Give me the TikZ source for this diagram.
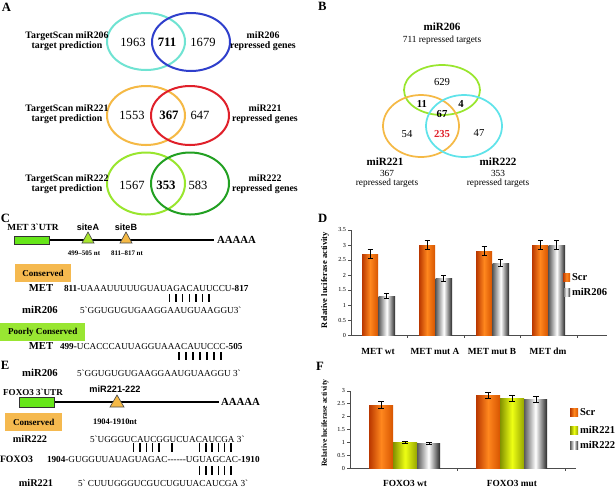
\documentclass[tikz,border=0pt]{standalone}
\usepackage{fontspec}
\setmainfont{Liberation Serif}
\newfontfamily\sansf{Liberation Sans}
\newcommand{\fsz}[1]{\fontsize{#1}{#1}\selectfont}
\newcommand{\gr}{\textasciigrave}
\definecolor{cyanA}{HTML}{6FE3D2}
\definecolor{blueA}{HTML}{2F3FCC}
\definecolor{orangeA}{HTML}{F5B945}
\definecolor{redA}{HTML}{E0202A}
\definecolor{lgreenA}{HTML}{99E62E}
\definecolor{dgreenA}{HTML}{22A022}
\definecolor{cyanB}{HTML}{5FE3EA}
\definecolor{boxO}{HTML}{F5B94F}
\definecolor{boxG}{HTML}{99E632}
\definecolor{utrG}{HTML}{66E619}
\definecolor{triG}{HTML}{A8E62E}
\definecolor{redT}{HTML}{E0202A}
\tikzset{
  venn/.style={line width=1.5pt},
  lab/.style={font=\bfseries\fsz{7.4}, align=center},
  num/.style={font=\fsz{9.4}},
  bnum/.style={font=\bfseries\fsz{9.6}},
  bnumB/.style={font=\fsz{8}},
  panel/.style={font=\bfseries\fsz{9.5}, anchor=west},
  seq/.style={font=\fsz{6.9}, anchor=west},
  gname/.style={font=\bfseries\fsz{8}},
  sitelab/.style={font=\sansf\bfseries\fsz{6.8}},
  ntlab/.style={font=\bfseries\fsz{5.2}},
  boxlab/.style={font=\bfseries\fsz{6.8}, minimum height=13.5pt, inner xsep=5pt},
  utr/.style={draw=black!80, fill=utrG, line width=0.6pt},
  tri/.style={draw=black!70, line width=0.5pt},
  pair/.style={line width=1.1pt},
  obar/.style={left color={rgb,255:red,185;green,55;blue,0}, right color={rgb,255:red,215;green,85;blue,0}, middle color={rgb,255:red,255;green,135;blue,30}},
  wbar/.style={left color={rgb,255:red,90;green,90;blue,90}, right color={rgb,255:red,40;green,40;blue,40}, middle color=white},
  ybar/.style={left color={rgb,255:red,130;green,145;blue,0}, right color={rgb,255:red,150;green,165;blue,0}, middle color={rgb,255:red,238;green,255;blue,20}},
  err/.style={line width=0.7pt},
  axis/.style={line width=0.4pt, draw=black!70},
  tick/.style={font=\fsz{4.6}, anchor=east},
  ylab/.style={font=\bfseries\fsz{6.4}, rotate=90},
  cat/.style={font=\bfseries\fsz{7}},
  leg/.style={font=\bfseries\fsz{7.9}, anchor=west},
}
\begin{document}
\begin{tikzpicture}[x=0.75pt,y=-0.75pt, every node/.style={inner sep=0pt, outer sep=0pt}]
\fill[white] (0,0) rectangle (616,487);
\useasboundingbox (0,0) rectangle (616,487);

%================ A ================
\node[panel] (pA) at (2,7) {A};
\draw[venn, cyanA] (146,41.5) ellipse [x radius=39, y radius=28.5];
\draw[venn, blueA] (191,42) ellipse [x radius=39, y radius=29];
\node[num] (a1l) at (133,42) {1963};
\node[bnum] (a1m) at (167,42) {711};
\node[num] (a1r) at (203,42) {1679};
\node[lab] (a1L) at (67,41) {TargetScan miR206\\target prediction};
\node[lab] (a1R) at (263,41) {miR206\\repressed genes};

\draw[venn, orangeA] (146,115.5) ellipse [x radius=39, y radius=29.5];
\draw[venn, redA] (190,115.5) ellipse [x radius=39, y radius=29.5];
\node[num] (a2l) at (132,115) {1553};
\node[bnum] (a2m) at (169,115) {367};
\node[num] (a2r) at (200,115) {647};
\node[lab] (a2L) at (67,114) {TargetScan miR221\\target prediction};
\node[lab] (a2R) at (265,114) {miR221\\repressed genes};

\draw[venn, lgreenA] (146,183.5) ellipse [x radius=39, y radius=31];
\draw[venn, dgreenA] (190,183.5) ellipse [x radius=39, y radius=31];
\node[num] (a3l) at (132,185) {1567};
\node[bnum] (a3m) at (166,185) {353};
\node[num] (a3r) at (198,185) {583};
\node[lab] (a3L) at (67,184) {TargetScan miR222\\target prediction};
\node[lab] (a3R) at (265,184) {miR222\\repressed genes};

%================ B ================
\node[panel] (pB) at (318,6) {B};
\node[font=\bfseries\fsz{8.3}] (b206) at (442,27) {miR206};
\node[font=\fsz{7}] (b206t) at (442,40) {711 repressed targets};
\draw[venn, lgreenA, line width=1.3pt] (442,90) ellipse [x radius=38, y radius=25];
\draw[venn, orangeA, line width=1.3pt] (421,126) ellipse [x radius=38, y radius=31];
\draw[venn, cyanB, line width=1.3pt] (464,126) ellipse [x radius=38, y radius=31];
\node[bnumB] (b629) at (442,82) {629};
\node[bnumB, font=\bfseries\fsz{8}] (b11) at (422,104) {11};
\node[bnumB, font=\bfseries\fsz{8}] (b4) at (461,104) {4};
\node[bnumB, font=\bfseries\fsz{8}] (b67) at (442,114) {67};
\node[bnumB] (b54) at (407,134) {54};
\node[bnumB, font=\bfseries\fsz{8}, text=redT] (b235) at (442,134) {235};
\node[bnumB] (b47) at (479,133) {47};
\node[font=\bfseries\fsz{8.3}] (b221) at (385,162) {miR221};
\node[font=\fsz{7}, align=center] (b221t) at (387,179) {367\\repressed targets};
\node[font=\bfseries\fsz{8.3}] (b222) at (498,162) {miR222};
\node[font=\fsz{7}, align=center] (b222t) at (498,179) {353\\repressed targets};

%================ C ================
\node[panel] (pC) at (1,218) {C};
\node[font=\bfseries\fsz{7}] (cutr) at (33,227) {MET 3\gr UTR};
\coordinate (cl0) at (49,240);
\coordinate (cl1) at (214,240);
\draw[line width=1pt] (cl0) -- (cl1);
\draw[utr] (14,236) rectangle (49,244.5);
\node[font=\bfseries\fsz{8.1}, anchor=west] (cA) at (217,240) {AAAAA};
\draw[tri, fill=triG] (82,243) -- (94,243) -- (88,232) -- cycle;
\draw[tri, fill=orangeA] (120,243) -- (132,243) -- (126,232) -- cycle;
\node[sitelab] (csa) at (88,227) {siteA};
\node[sitelab] (csb) at (126,227) {siteB};
\node[ntlab] (cna) at (84,253) {499--505 nt};
\node[ntlab] (cnb) at (127,253) {811--817 nt};

\node[boxlab, fill=boxO, minimum width=42pt, anchor=north west] (cons1) at (15,264) {Conserved};
\node[gname] (cmet1) at (41,288) {MET};
\node[seq] (cseq1) at (64,288) {\textbf{811-}UAAAUUUUUGUAUAGACAUUCCU\textbf{-817}};
\foreach \i in {0,...,6} \draw[pair] ({169.5+6.6*\i},294) -- ({169.5+6.6*\i},302);
\node[gname] (cmir1) at (40,310) {miR206};
\node[seq] (cseq2) at (80,310) {5\gr GGUGUGUGAAGGAAUGUAAGGU3\gr};

\node[boxlab, fill=boxG, minimum width=64pt, anchor=north west] (cons2) at (0,323) {Poorly Conserved};
\node[gname] (cmet2) at (41,346) {MET};
\node[seq] (cseq3) at (60,346) {\textbf{499-}UCACCCAUUAGGUAAACAUUCCC\textbf{-505}};
\foreach \i in {0,...,6} \draw[pair] ({179+7*\i},352) -- ({179+7*\i},360);

%================ E ================
\node[panel] (pE) at (1,365) {E};
\node[gname] (emir206) at (40,373) {miR206};
\node[seq] (eseq0) at (77,373) {5\gr GGUGUGUGAAGGAAUGUAAGGU 3\gr};
\node[font=\bfseries\fsz{6.8}] (eutr) at (33,392) {FOXO3 3\gr UTR};
\node[sitelab, font=\sansf\bfseries\fsz{6.9}] (emir) at (115,389) {miR221-222};
\coordinate (el0) at (54,402);
\coordinate (el1) at (219,402);
\draw[line width=1pt] (el0) -- (el1);
\draw[utr] (19,397) rectangle (54,407);
\node[font=\bfseries\fsz{8.1}, anchor=west] (eA) at (221,402) {AAAAA};
\draw[tri, fill=orangeA] (110,407) -- (124,407) -- (117,395) -- cycle;
\node[font=\bfseries\fsz{6.3}] (ent) at (115,422) {1904-1910nt};
\node[boxlab, fill=boxO, minimum width=43pt, anchor=north west] (cons3) at (5,413) {Conserved};
\node[gname, font=\bfseries\fsz{7.7}] (e222) at (30,439) {miR222};
\node[seq] (eseq1) at (90,439) {5\gr UGGGUCAUCGGUCUACAUCGA 3\gr};
\foreach \i in {0,...,4} \draw[pair] ({133.5+6.4*\i},443) -- ({133.5+6.4*\i},452);
\draw[pair] (172,443) -- (172,452);
\foreach \i in {0,...,5} \draw[pair] ({199.5+6.3*\i},443) -- ({199.5+6.3*\i},452);
\node[gname, font=\bfseries\fsz{7.3}, anchor=west] (efox) at (0,459) {FOXO3};
\node[seq] (eseq2) at (47,459) {\textbf{1904-}GUGGUUAUAGUAGAC-{}-{}-{}-{}-{}-{}UGUAGCAC\textbf{-1910}};
\foreach \i in {0,...,5} \draw[pair] ({199.5+6.3*\i},466) -- ({199.5+6.3*\i},475);
\node[gname, font=\bfseries\fsz{7.7}] (e221) at (36,483) {miR221};
\node[seq] (eseq3) at (78,483) {5\gr{} CUUUGGGUCGUCUGUUACAUCGA 3\gr};

%================ D ================
\node[panel] (pD) at (318,218) {D};
\draw[axis] (351,230) -- (351,335) -- (607,335);
\foreach \v in {0,0.5,...,3.5} {
  \draw[axis] (348,{335-30*\v}) -- (351,{335-30*\v});
  \node[tick] at (346,{335-30*\v}) {\v};
}
\foreach \t in {407,464,520,577} \draw[axis] (\t,335) -- (\t,338);
\node[ylab] (dy) at (325,280) {Relative luciferase activity};
\foreach \x/\s/\m/\es/\em in {362/2.7/1.3/0.15/0.07, 419/3.0/1.9/0.15/0.1, 476/2.8/2.4/0.15/0.12, 532/3.0/3.0/0.15/0.15} {
  \shade[obar] (\x,335) rectangle ({\x+16},{335-30*\s});
  \shade[wbar] ({\x+16.5},335) rectangle ({\x+33},{335-30*\m});
  \draw[err] ({\x+8},{335-30*(\s-\es)}) -- ({\x+8},{335-30*(\s+\es)});
  \draw[err] ({\x+5.5},{335-30*(\s-\es)}) -- ({\x+10.5},{335-30*(\s-\es)});
  \draw[err] ({\x+5.5},{335-30*(\s+\es)}) -- ({\x+10.5},{335-30*(\s+\es)});
  \draw[err] ({\x+24.5},{335-30*(\m-\em)}) -- ({\x+24.5},{335-30*(\m+\em)});
  \draw[err] ({\x+22},{335-30*(\m-\em)}) -- ({\x+27},{335-30*(\m-\em)});
  \draw[err] ({\x+22},{335-30*(\m+\em)}) -- ({\x+27},{335-30*(\m+\em)});
}
\node[cat] (d1) at (378,351) {MET wt};
\node[cat] (d2) at (435,351) {MET mut A};
\node[cat] (d3) at (492,351) {MET mut B};
\node[cat] (d4) at (548,351) {MET dm};
\shade[obar] (563,273) rectangle (570,281);
\node[leg] (dl1) at (572,277) {Scr};
\shade[wbar] (563,288) rectangle (570,296);
\node[leg] (dl2) at (572,292) {miR206};

%================ F ================
\node[panel] (pF) at (316,366) {F};
\draw[axis] (350,391) -- (350,468) -- (576,468);
\foreach \v in {0,0.5,...,3} {
  \draw[axis] (347,{468-25.7*\v}) -- (350,{468-25.7*\v});
  \node[tick] at (345,{468-25.7*\v}) {\v};
}
\foreach \t in {457,565} \draw[axis] (\t,468) -- (\t,471);
\node[ylab, font=\bfseries\fsz{5.8}] (fy) at (325,423) {Relative luciferase activity};
\foreach \x/\s/\a/\b/\es/\ea/\eb in {369/2.45/1.0/0.95/0.12/0.05/0.05, 476/2.82/2.72/2.68/0.12/0.12/0.12} {
  \shade[obar] (\x,468) rectangle ({\x+24},{468-25.7*\s});
  \shade[ybar] ({\x+24},468) rectangle ({\x+48},{468-25.7*\a});
  \shade[wbar] ({\x+48},468) rectangle ({\x+71},{468-25.7*\b});
  \foreach \c/\v/\e in {12/\s/\es, 36/\a/\ea, 60/\b/\eb} {
    \draw[err] ({\x+\c},{468-25.7*(\v-\e)}) -- ({\x+\c},{468-25.7*(\v+\e)});
    \draw[err] ({\x+\c-3},{468-25.7*(\v-\e)}) -- ({\x+\c+3},{468-25.7*(\v-\e)});
    \draw[err] ({\x+\c-3},{468-25.7*(\v+\e)}) -- ({\x+\c+3},{468-25.7*(\v+\e)});
  }
}
\node[cat] (f1) at (405,483) {FOXO3 wt};
\node[cat] (f2) at (512,483) {FOXO3 mut};
\shade[obar] (570,408) rectangle (578,416);
\node[leg] (fl1) at (580,412) {Scr};
\shade[ybar] (570,426) rectangle (578,434);
\node[leg] (fl2) at (580,430) {miR221};
\shade[wbar] (570,441) rectangle (578,449);
\node[leg] (fl3) at (580,445) {miR222};
\end{tikzpicture}
\end{document}
